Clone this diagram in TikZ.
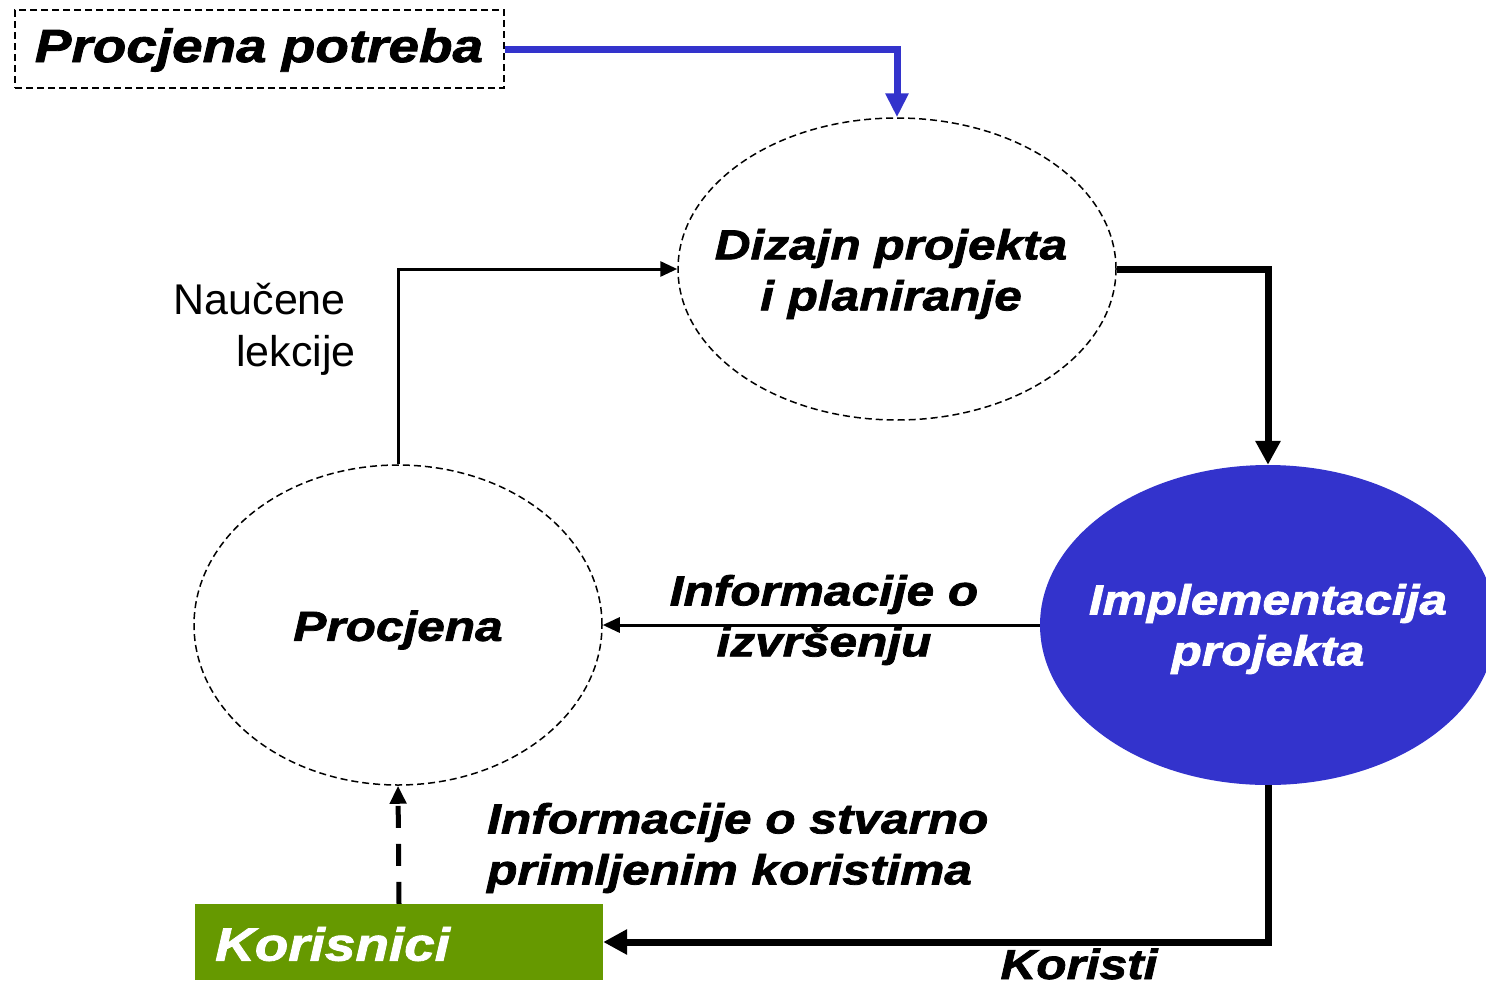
\documentclass[tikz,border=0pt]{standalone}
\usepackage{fontspec}
\setmainfont{Liberation Sans}
\newfontfamily\heavy{Liberation Sans}[FakeStretch=1.18,FakeBold=1.8]
\usetikzlibrary{shapes.geometric,arrows.meta}
\definecolor{pblue}{HTML}{3333CC}
\definecolor{pgreen}{HTML}{669900}
\tikzset{
  dashell/.style={ellipse,draw=black,line width=1.5pt,dash pattern=on 7pt off 4pt,inner sep=0pt},
  hv/.style={font=\heavy\bfseries\itshape\fontsize{42}{51}\selectfont,align=center,inner sep=0pt},
  big/.style={font=\heavy\bfseries\itshape\fontsize{46.5}{55}\selectfont,inner sep=0pt},
  thin/.style={line width=3pt,-{Triangle[length=17pt,width=15pt]}},
  thick/.style={line width=7pt,-{Triangle[length=24pt,width=24pt]}},
}
\begin{document}
\begin{tikzpicture}[x=1pt,y=-1pt]
\useasboundingbox (0,0) rectangle (1486,986);
% nodes
\node[draw,line width=1.5pt,dash pattern=on 7pt off 4pt,minimum width=489pt,minimum height=78pt,inner sep=0pt] (pp) at (259.5,49) {};
\node[big] at (259,50) {Procjena potreba};
\node[dashell,minimum width=438pt,minimum height=302pt] (diz) at (897,269) {};
\node[hv] at (891,274) {Dizajn projekta\\i planiranje};
\node[ellipse,fill=pblue,minimum width=456pt,minimum height=320pt,inner sep=0pt] (impl) at (1268,625) {};
\node[hv,text=white] at (1268,629) {Implementacija\\projekta};
\node[dashell,minimum width=408pt,minimum height=320pt] (proc) at (398,625) {};
\node[hv] at (398,630) {Procjena};
\node[fill=pgreen,minimum width=408pt,minimum height=76pt,inner sep=0pt] (kor) at (399,942) {};
\node[big,text=white,anchor=west] at (215,944) {Korisnici};
% labels
\node[font=\fontsize{43}{52}\selectfont,align=right,anchor=east,inner sep=0pt] at (356,329) {Naučene\hspace*{10pt}\\lekcije};
\node[hv] at (824,620) {Informacije o\\izvršenju};
\node[hv,align=left,anchor=west] at (487,848) {Informacije o stvarno\\primljenim koristima};
\node[hv] at (1079,964) {Koristi};
% connectors
\draw[line width=7pt,pblue,-{Triangle[length=24pt,width=22pt]}] (pp.east) -| (diz.north);
\draw[thick] (diz.east) -| (impl.north);
\draw[thin] (impl.west) -- (proc.east);
\draw[thin] (proc.north) |- (diz.west);
\draw[line width=5pt,dash pattern=on 22pt off 16pt,-{Triangle[length=18pt,width=16pt]}] (kor.north) -- (proc.south);
\draw[thick] (impl.south) |- (kor.east);
\end{tikzpicture}
\end{document}
